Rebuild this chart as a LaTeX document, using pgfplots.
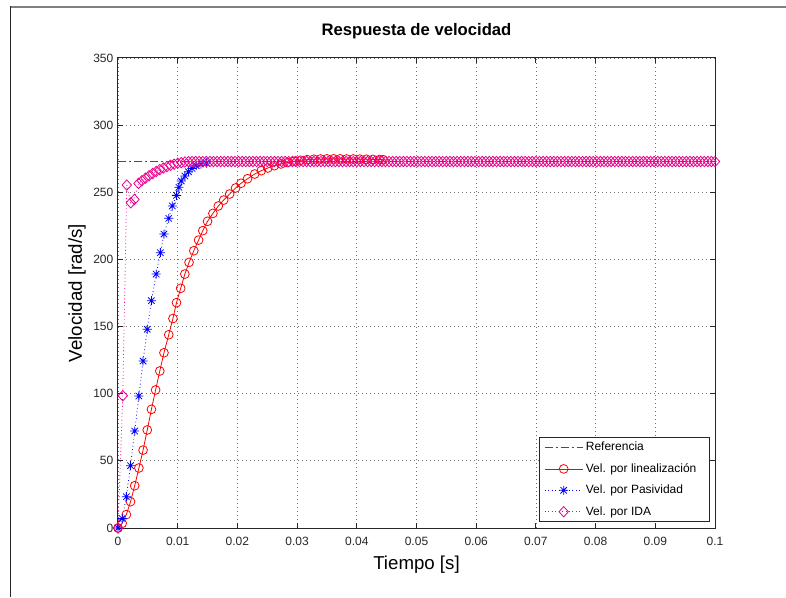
\documentclass[border=0pt]{standalone}
\usepackage{pgfplots}
\pgfplotsset{compat=1.18}
\usepackage{fontspec}
\setmainfont{Liberation Sans}
\pgfdeclareplotmark{mstar}{%
  \pgfpathmoveto{\pgfqpoint{-\pgfplotmarksize}{0pt}}\pgfpathlineto{\pgfqpoint{\pgfplotmarksize}{0pt}}%
  \pgfpathmoveto{\pgfqpoint{0pt}{-\pgfplotmarksize}}\pgfpathlineto{\pgfqpoint{0pt}{\pgfplotmarksize}}%
  \pgfpathmoveto{\pgfqpoint{-.707\pgfplotmarksize}{-.707\pgfplotmarksize}}\pgfpathlineto{\pgfqpoint{.707\pgfplotmarksize}{.707\pgfplotmarksize}}%
  \pgfpathmoveto{\pgfqpoint{-.707\pgfplotmarksize}{.707\pgfplotmarksize}}\pgfpathlineto{\pgfqpoint{.707\pgfplotmarksize}{-.707\pgfplotmarksize}}%
  \pgfusepathqstroke}
\pgfdeclareplotmark{mdiam}{%
  \pgfpathmoveto{\pgfqpoint{0pt}{\pgfplotmarksize}}%
  \pgfpathlineto{\pgfqpoint{.9\pgfplotmarksize}{0pt}}%
  \pgfpathlineto{\pgfqpoint{0pt}{-\pgfplotmarksize}}%
  \pgfpathlineto{\pgfqpoint{-.9\pgfplotmarksize}{0pt}}%
  \pgfpathclose\pgfusepathqstroke}
\begin{document}
\begin{tikzpicture}
\useasboundingbox (-88.5pt,-51.75pt) rectangle (501pt,396pt);
\fill[white] (-88.5pt,-51.75pt) rectangle (501pt,396pt);
\draw[gray, line width=1.5pt] (-80.25pt,390.75pt) -- (501pt,390.75pt);
\draw[black!85, line width=0.75pt] (-80.25pt,391.5pt) -- (-80.25pt,-51.75pt);
\begin{axis}[
  scale only axis, width=447.75pt, height=352.5pt,
  xmin=0, xmax=0.1, ymin=0, ymax=350,
  clip=false,
  xtick={0,0.01,0.02,0.03,0.04,0.05,0.06,0.07,0.08,0.09,0.1},
  xticklabels={0,0.01,0.02,0.03,0.04,0.05,0.06,0.07,0.08,0.09,0.1},
  ytick={0,50,100,150,200,250,300,350},
  yticklabels={0,50,100,150,200,250,300,350},
  scaled x ticks=false,
  tick align=inside,
  major tick length=3.75pt,
  grid=major,
  major grid style={black!55, line width=0.6pt, dash pattern=on 0.75pt off 2.25pt},
  axis line style={black!85, line width=0.75pt},
  tick style={black!85, line width=0.75pt},
  ticklabel style={font=\fontsize{9}{10}\selectfont, text=black!85},
  xticklabel style={yshift=-3pt},
  title={Respuesta de velocidad},
  title style={font=\bfseries\fontsize{12.5}{14}\selectfont, at={(0.5,1.0298)}, anchor=base},
  xlabel={Tiempo [s]},
  xlabel style={font=\fontsize{14}{16}\selectfont, at={(axis description cs:0.5,-0.0787)}, anchor=center},
  ylabel={Velocidad [rad/s]},
  ylabel style={font=\fontsize{14}{16}\selectfont, at={(axis description cs:-0.0687,0.5)}, anchor=center},
  legend style={at={(0.9916,0.0128)}, anchor=south east, draw=black!85,
    font=\fontsize{9}{10}\selectfont, cells={anchor=west}, row sep=4pt, inner xsep=3.5pt, inner ysep=1.5pt},
  legend image code/.code={\draw[mark repeat=2,mark phase=2] plot coordinates {(0pt,0pt)(14.25pt,0pt)(28.5pt,0pt)};},
]
\addplot[black!70, line width=0.75pt, dash pattern=on 6pt off 2.25pt on 1.5pt off 2.25pt] coordinates {(0,272.7)(0.1,272.7)};
\addlegendentry{Referencia}
\addplot[red, line width=0.6pt, mark=o, mark size=3.3pt, mark options={solid}] coordinates {
(0,0)(0.0007,3.5)(0.0014,10)(0.0021,19.6)(0.0028,31.5)(0.0035,44.7)(0.0042,58)(0.0049,73)
(0.0056,88.4)(0.0063,102.8)(0.0070,116.9)(0.0077,130.5)(0.0085,143.9)(0.0092,156)(0.0098,167.8)
(0.0105,178.5)(0.0112,189.1)(0.0119,197.8)(0.0127,206.5)(0.0135,214.4)(0.0142,221.4)(0.0150,228.4)
(0.0159,234.3)(0.0168,239.8)(0.0177,244.2)(0.0187,248.7)(0.0197,253.2)(0.0206,256.7)(0.0217,260.1)
(0.0229,263.6)(0.0240,266.1)(0.0251,268.1)(0.0262,269.8)(0.0273,271.1)(0.0284,272.2)(0.0295,273.1)
(0.0306,273.8)(0.0317,274.3)(0.0328,274.6)(0.0339,274.8)(0.0350,274.9)(0.0361,274.9)(0.0372,274.9)
(0.0383,274.8)(0.0394,274.8)(0.0405,274.7)(0.0416,274.6)(0.0427,274.5)(0.0438,274.4)(0.0444,274.3)};
\addlegendentry{Vel. por linealización\kern4.5pt}
\addplot[blue, line width=0.6pt, dotted, mark=mstar, mark size=3.4pt, mark options={solid}] coordinates {
(0,0)(0.0007,7)(0.0014,23.3)(0.0021,46.4)(0.0028,72.2)(0.0035,98.3)(0.0042,124.3)(0.0049,148)
(0.0056,169.3)(0.0064,189.1)(0.0071,205)(0.0077,218.9)(0.0085,230.6)(0.0091,239.8)(0.0098,247.7)
(0.0102,253.7)(0.0106,258.4)(0.0112,262.1)(0.0118,265.3)(0.0124,267.8)(0.0131,269.8)(0.0139,271.0)
(0.0148,271.8)};
\addlegendentry{Vel. por Pasividad}
\addplot[magenta, line width=0.6pt, dotted, mark=mdiam, mark size=3.9pt, mark options={solid}] coordinates {
(0,0)(0.0008,98.5)(0.00147,255.4)(0.00214,242.2)(0.00276,244.7)(0.00343,256.6)(0.0040,258.6)
(0.0046,260.5)(0.0052,262.3)(0.0058,264.0)(0.0064,265.5)(0.0070,266.9)(0.0076,268.1)(0.0082,269.2)
(0.0088,270.1)(0.0094,270.9)(0.0100,271.6)(0.0106,272.1)(0.0112,272.5)(0.0118,272.8)(0.0124,272.9)
(0.0130,272.9)(0.0136,272.9)(0.0142,272.9)(0.0148,272.9)(0.0154,272.9)
(0.0160,272.9)(0.0166,272.9)(0.0172,272.9)(0.0178,272.9)(0.0184,272.9)
(0.0190,272.9)(0.0196,272.9)(0.0202,272.9)(0.0208,272.9)(0.0214,272.9)
(0.0220,272.9)(0.0226,272.9)(0.0232,272.9)(0.0238,272.9)(0.0244,272.9)
(0.0250,272.9)(0.0256,272.9)(0.0262,272.9)(0.0268,272.9)(0.0274,272.9)
(0.0280,272.9)(0.0286,272.9)(0.0292,272.9)(0.0298,272.9)(0.0304,272.9)
(0.0310,272.9)(0.0316,272.9)(0.0322,272.9)(0.0328,272.9)(0.0334,272.9)
(0.0340,272.9)(0.0346,272.9)(0.0352,272.9)(0.0358,272.9)(0.0364,272.9)
(0.0370,272.9)(0.0376,272.9)(0.0382,272.9)(0.0388,272.9)(0.0394,272.9)
(0.0400,272.9)(0.0406,272.9)(0.0412,272.9)(0.0418,272.9)(0.0424,272.9)
(0.0430,272.9)(0.0436,272.9)(0.0442,272.9)(0.0448,272.9)(0.0454,272.9)
(0.0460,272.9)(0.0466,272.9)(0.0472,272.9)(0.0478,272.9)(0.0484,272.9)
(0.0490,272.9)(0.0496,272.9)(0.0502,272.9)(0.0508,272.9)(0.0514,272.9)
(0.0520,272.9)(0.0526,272.9)(0.0532,272.9)(0.0538,272.9)(0.0544,272.9)
(0.0550,272.9)(0.0556,272.9)(0.0562,272.9)(0.0568,272.9)(0.0574,272.9)
(0.0580,272.9)(0.0586,272.9)(0.0592,272.9)(0.0598,272.9)(0.0604,272.9)
(0.0610,272.9)(0.0616,272.9)(0.0622,272.9)(0.0628,272.9)(0.0634,272.9)
(0.0640,272.9)(0.0646,272.9)(0.0652,272.9)(0.0658,272.9)(0.0664,272.9)
(0.0670,272.9)(0.0676,272.9)(0.0682,272.9)(0.0688,272.9)(0.0694,272.9)
(0.0700,272.9)(0.0706,272.9)(0.0712,272.9)(0.0718,272.9)(0.0724,272.9)
(0.0730,272.9)(0.0736,272.9)(0.0742,272.9)(0.0748,272.9)(0.0754,272.9)
(0.0760,272.9)(0.0766,272.9)(0.0772,272.9)(0.0778,272.9)(0.0784,272.9)
(0.0790,272.9)(0.0796,272.9)(0.0802,272.9)(0.0808,272.9)(0.0814,272.9)
(0.0820,272.9)(0.0826,272.9)(0.0832,272.9)(0.0838,272.9)(0.0844,272.9)
(0.0850,272.9)(0.0856,272.9)(0.0862,272.9)(0.0868,272.9)(0.0874,272.9)
(0.0880,272.9)(0.0886,272.9)(0.0892,272.9)(0.0898,272.9)(0.0904,272.9)
(0.0910,272.9)(0.0916,272.9)(0.0922,272.9)(0.0928,272.9)(0.0934,272.9)
(0.0940,272.9)(0.0946,272.9)(0.0952,272.9)(0.0958,272.9)(0.0964,272.9)
(0.0970,272.9)(0.0976,272.9)(0.0982,272.9)(0.0988,272.9)(0.0994,272.9)
(0.1000,272.9)};
\addlegendentry{Vel. por IDA}
\end{axis}
\end{tikzpicture}
\end{document}
